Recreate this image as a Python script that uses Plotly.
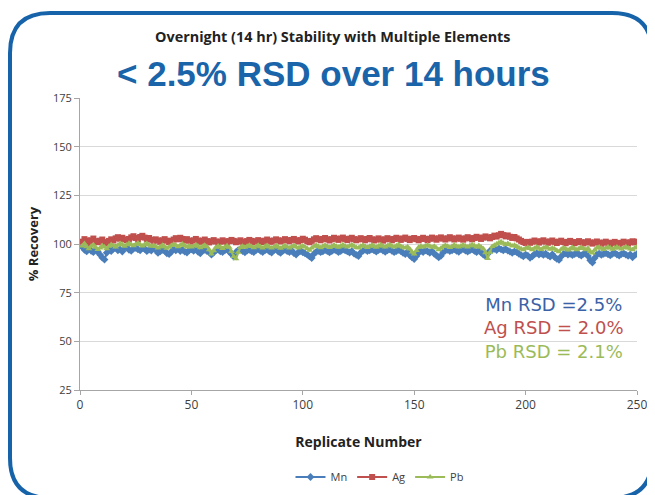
import plotly.graph_objects as go

# replicate numbers 1..250
replicates = list(range(1, 251))

mn = [
    98.5, 97.0, 96.2, 97.8, 96.5, 95.8, 97.2, 96.0, 94.5, 93.0, 92.0, 95.5, 97.0, 96.4, 97.5, 98.0, 96.8, 97.3, 96.1, 97.9, 98.2, 97.0, 96.5, 97.6, 98.0,
    97.2, 96.8, 98.0, 97.5, 96.3, 97.1, 96.6, 97.8, 96.9, 95.4, 96.2, 97.0, 96.5, 95.2, 94.8, 96.0, 97.3, 96.7, 97.5, 96.4, 97.0, 96.1, 95.6, 96.8, 97.2,
    96.5, 97.4, 96.0, 95.2, 96.6, 97.0, 96.3, 95.8, 94.5, 95.6, 96.7, 97.1, 96.2, 95.9, 96.8, 97.3, 96.0, 94.8, 93.5, 95.8, 96.9, 97.2, 96.4, 95.7, 96.6,
    97.0, 96.3, 95.8, 96.9, 97.4, 96.5, 95.9, 96.7, 97.1, 96.2, 95.6, 96.8, 97.3, 96.1, 95.4, 96.5, 97.0, 96.3, 95.9, 96.6, 95.3, 94.6, 95.8, 96.4, 95.7,
    95.2, 94.5, 93.6, 92.8, 94.9, 96.0, 96.5, 95.8, 96.2, 96.9, 96.4, 95.7, 96.3, 97.0, 96.6, 95.9, 96.4, 97.1, 96.8, 96.2, 95.6, 96.3, 95.1, 94.4, 93.8,
    95.6, 96.5, 97.0, 96.4, 96.8, 97.3, 96.7, 96.1, 96.9, 97.4, 96.6, 96.0, 96.8, 97.2, 96.5, 95.8, 96.4, 97.0, 96.3, 95.4, 94.8, 95.9, 94.2, 93.1, 92.3,
    93.8, 95.6, 96.4, 95.9, 96.7, 96.2, 95.5, 96.3, 95.0, 94.1, 93.2, 93.9, 95.7, 96.6, 97.0, 96.4, 96.8, 97.3, 96.5, 96.0, 96.9, 97.4, 96.6, 96.1, 96.8,
    97.2, 96.5, 95.8, 96.7, 95.6, 94.6, 93.8, 94.9, 96.5, 97.0, 97.5, 96.9, 97.8, 97.2, 96.8, 97.4, 96.6, 96.1, 95.5, 96.2, 95.8, 95.0, 94.3, 93.7, 94.5,
    94.0, 92.9, 93.6, 94.8, 95.3, 94.6, 95.1, 94.4, 95.0, 94.2, 93.5, 94.7, 93.3, 92.4, 91.8, 93.6, 94.9, 95.2, 94.5, 95.0, 94.3, 94.8, 95.3, 94.6, 94.1,
    94.9, 95.2, 93.8, 91.6, 90.5, 92.8, 94.6, 95.1, 94.4, 94.9, 95.3, 94.7, 94.2, 95.0, 95.4, 94.6, 94.1, 94.8, 95.2, 94.5, 93.9, 94.6, 93.2, 94.3, 94.9,
]

ag = [
    101.2, 102.5, 101.8, 100.6, 101.9, 102.8, 101.5, 100.9, 101.7, 102.3, 101.0, 100.4, 101.6, 102.4, 101.8, 102.9, 103.5, 102.7, 103.2, 102.4, 101.9, 102.6, 103.4, 104.0, 103.1,
    102.5, 103.6, 104.2, 103.3, 102.6, 103.1, 102.2, 101.6, 102.4, 101.8, 101.1, 101.9, 102.5, 101.7, 100.9, 101.6, 102.3, 103.0, 102.4, 103.2, 102.6, 101.8, 102.5, 101.7, 101.2,
    101.9, 102.6, 101.8, 101.1, 101.7, 102.3, 101.5, 100.8, 101.4, 102.0, 101.3, 100.6, 101.2, 101.9, 101.4, 100.7, 101.5, 102.1, 101.6, 100.9, 101.3, 101.9, 101.2, 100.8, 101.5,
    102.1, 101.6, 100.9, 101.4, 102.0, 101.5, 101.0, 101.7, 102.3, 101.6, 101.1, 101.8, 102.4, 101.9, 101.3, 101.8, 102.5, 102.0, 101.4, 102.1, 102.6, 101.9, 101.3, 102.0, 102.7,
    102.2, 101.5, 100.9, 101.6, 102.4, 103.0, 102.5, 101.9, 102.6, 103.1, 102.4, 101.8, 102.5, 103.2, 102.7, 102.1, 102.8, 103.3, 102.6, 102.0, 102.7, 103.2, 102.5, 101.9, 102.4,
    103.0, 102.5, 101.9, 102.6, 103.1, 102.4, 101.8, 102.3, 102.9, 102.3, 101.7, 102.4, 103.0, 102.5, 101.9, 102.6, 103.2, 102.7, 102.1, 102.8, 103.3, 102.6, 102.0, 102.7, 103.1,
    102.5, 101.9, 102.6, 103.2, 102.6, 102.0, 102.7, 103.3, 102.8, 102.2, 102.9, 103.4, 102.8, 102.3, 102.9, 103.5, 102.9, 102.3, 102.8, 103.3, 102.7, 102.2, 102.9, 103.5, 103.0,
    102.4, 103.1, 103.7, 103.2, 102.6, 103.3, 103.9, 103.4, 102.9, 103.6, 104.3, 103.8, 104.5, 105.2, 104.6, 103.9, 104.4, 103.7, 103.1, 103.6, 102.9, 102.3, 101.6, 101.0, 100.5,
    101.1, 100.6, 101.2, 101.8, 101.3, 100.7, 101.4, 101.9, 101.2, 100.6, 101.3, 101.8, 101.1, 100.5, 101.2, 101.7, 101.0, 100.4, 101.1, 101.6, 101.0, 100.4, 101.0, 101.5, 100.9,
    100.3, 100.9, 101.4, 100.8, 100.2, 100.8, 101.3, 100.7, 100.1, 100.7, 101.2, 100.6, 100.0, 100.6, 101.1, 100.5, 100.0, 100.6, 101.2, 100.7, 100.2, 100.9, 101.4, 100.8, 101.2,
]

pb = [
    99.0, 100.2, 98.6, 97.5, 98.8, 99.6, 98.3, 97.2, 98.0, 99.1, 98.5, 97.6, 98.9, 99.8, 99.2, 98.4, 99.5, 100.3, 99.7, 98.9, 99.6, 100.4, 99.8, 99.1, 99.9,
    100.5, 99.8, 99.0, 99.7, 100.3, 99.5, 98.8, 99.4, 98.7, 97.9, 98.6, 99.3, 98.6, 97.8, 98.5, 99.2, 99.9, 99.3, 98.6, 99.4, 100.0, 99.2, 98.5, 99.1, 98.4,
    99.0, 99.6, 98.8, 98.1, 98.7, 99.4, 98.6, 97.0, 94.8, 96.5, 98.3, 99.0, 98.4, 97.7, 98.5, 99.1, 98.3, 96.2, 93.6, 92.4, 95.8, 98.2, 98.9, 98.3, 98.8,
    99.4, 98.7, 98.1, 98.8, 99.3, 98.6, 98.0, 98.7, 99.2, 98.5, 97.9, 98.6, 99.1, 98.4, 97.8, 98.5, 99.1, 98.6, 98.0, 98.7, 99.2, 98.5, 97.9, 98.6, 99.0,
    98.4, 97.7, 96.8, 97.9, 98.8, 99.3, 98.7, 98.1, 98.8, 99.4, 98.8, 98.2, 98.9, 99.5, 98.9, 98.3, 99.0, 99.6, 99.0, 98.4, 99.1, 99.6, 98.9, 98.2, 98.0,
    98.8, 99.4, 98.8, 98.2, 98.9, 99.5, 98.9, 98.3, 99.0, 99.6, 99.0, 98.4, 99.1, 99.7, 99.0, 98.4, 99.1, 99.6, 98.9, 98.3, 98.0, 98.6, 97.4, 95.9, 94.8,
    96.7, 98.3, 98.9, 98.4, 99.0, 99.5, 98.8, 98.3, 98.9, 98.0, 97.1, 97.8, 98.7, 99.3, 98.8, 98.2, 98.9, 99.5, 98.9, 98.4, 99.0, 99.6, 99.0, 98.5, 99.1,
    99.7, 99.1, 98.5, 99.2, 98.4, 97.6, 95.5, 92.6, 95.8, 98.7, 99.4, 100.0, 100.6, 101.1, 100.4, 99.8, 100.3, 99.6, 99.0, 99.4, 98.7, 98.1, 97.6, 97.1, 97.8,
    98.3, 97.7, 97.1, 97.8, 98.4, 97.8, 97.2, 97.9, 98.5, 97.9, 97.3, 98.0, 97.4, 96.6, 96.0, 97.3, 98.1, 97.5, 96.9, 97.6, 98.2, 97.6, 97.0, 97.7, 98.3,
    97.7, 97.1, 97.8, 96.2, 95.4, 96.9, 97.9, 98.4, 97.8, 97.2, 97.9, 98.5, 97.9, 97.3, 98.0, 98.5, 97.9, 97.4, 98.1, 98.6, 98.0, 97.4, 97.0, 97.9, 98.4,
]

series_names = ["Mn", "Ag", "Pb"]
rsd_labels = ["Mn RSD =2.5%", "Ag RSD = 2.0%", "Pb RSD = 2.1%"]

# the page puts the figure 8px in from the top-left corner
OFF = 8
W, H = 655 - OFF, 495 - OFF
L, R, T, B = 72, 18, 90, 105
PW, PH = W - L - R, H - T - B

def px(x):
    # x in screen pixels -> paper
    return (x - OFF - L) / PW

def py(y):
    return (H - B - (y - OFF)) / PH

fig = go.Figure()

styles = [
    dict(color="#4a7ebb", symbol="diamond"),
    dict(color="#c0504d", symbol="square"),
    dict(color="#9bbb59", symbol="triangle-up"),
]
for name, vals, st in zip(series_names, [mn, ag, pb], styles):
    fig.add_trace(go.Scatter(
        x=replicates, y=vals, name=name, mode="lines+markers",
        line=dict(color=st["color"], width=2),
        marker=dict(color=st["color"], symbol=st["symbol"], size=6),
    ))

# rounded blue frame
x0, y0, x1, y1, r = 10, 13, 652, 498, 40
path = (
    f"M {px(x0 + r)},{py(y0)} L {px(x1 - r)},{py(y0)} "
    f"Q {px(x1)},{py(y0)} {px(x1)},{py(y0 + r)} "
    f"L {px(x1)},{py(y1 - r)} Q {px(x1)},{py(y1)} {px(x1 - r)},{py(y1)} "
    f"L {px(x0 + r)},{py(y1)} Q {px(x0)},{py(y1)} {px(x0)},{py(y1 - r)} "
    f"L {px(x0)},{py(y0 + r)} Q {px(x0)},{py(y0)} {px(x0 + r)},{py(y0)} Z"
)
fig.add_shape(type="path", path=path, xref="paper", yref="paper",
              line=dict(color="#1763aa", width=4), layer="above")

fig.add_annotation(text="Overnight (14 hr) Stability with Multiple Elements",
                   x=px(333), y=py(36), xref="paper", yref="paper", showarrow=False,
                   xanchor="center", yanchor="middle",
                   font=dict(family="Open Sans", size=14.4, color="#222222", weight="bold"))
fig.add_annotation(text="< 2.5% RSD over 14 hours",
                   x=px(333), y=py(73), xref="paper", yref="paper", showarrow=False,
                   xanchor="center", yanchor="middle",
                   font=dict(family="Liberation Sans", size=35, color="#1a64aa", weight="bold"))

rsd_colors = ["#3b62a6", "#c0504d", "#9bbb59"]
rsd_text = "<br>".join(f"<span style='color:{c}'>{t}</span>" for t, c in zip(rsd_labels, rsd_colors))
fig.add_annotation(text=rsd_text, x=px(554), y=py(328), xref="paper", yref="paper",
                   showarrow=False, align="center", xanchor="center", yanchor="middle",
                   font=dict(family="DejaVu Sans", size=18, color=rsd_colors[0]))

fig.update_layout(
    width=W, height=H,
    margin=dict(l=L, r=R, t=T, b=B, autoexpand=False),
    paper_bgcolor="white", plot_bgcolor="white",
    showlegend=True,
    legend=dict(orientation="h", x=px(380), xanchor="center", yref="container",
                y=1 - (477 - OFF) / H, yanchor="middle",
                font=dict(family="Open Sans", size=11, color="#404040"),
                itemwidth=30, tracegroupgap=0),
    font=dict(family="Open Sans", color="#404040"),
)
fig.update_xaxes(
    range=[0, 250], tickvals=[0, 50, 100, 150, 200, 250],
    showgrid=False, zeroline=False, automargin=False,
    showline=True, linecolor="#a6a6a6", linewidth=1,
    ticks="outside", ticklen=4, tickcolor="#a6a6a6",
    tickfont=dict(family="Open Sans", size=12, color="#404040"),
    title=dict(text="<b>Replicate Number</b>", font=dict(family="Open Sans", size=14, color="#222222"), standoff=24),
)
fig.update_yaxes(
    range=[25, 175], tickvals=[25, 50, 75, 100, 125, 150, 175],
    showgrid=True, gridcolor="#d9d9d9", zeroline=False, automargin=False,
    showline=True, linecolor="#a6a6a6", linewidth=1,
    ticks="outside", ticklen=5, tickcolor="#a6a6a6",
    tickfont=dict(family="Open Sans", size=11, color="#404040"),
    title=dict(text="<b>% Recovery</b>", font=dict(family="Open Sans", size=13, color="#222222"), standoff=11),
)

fig.write_html("out.html")
